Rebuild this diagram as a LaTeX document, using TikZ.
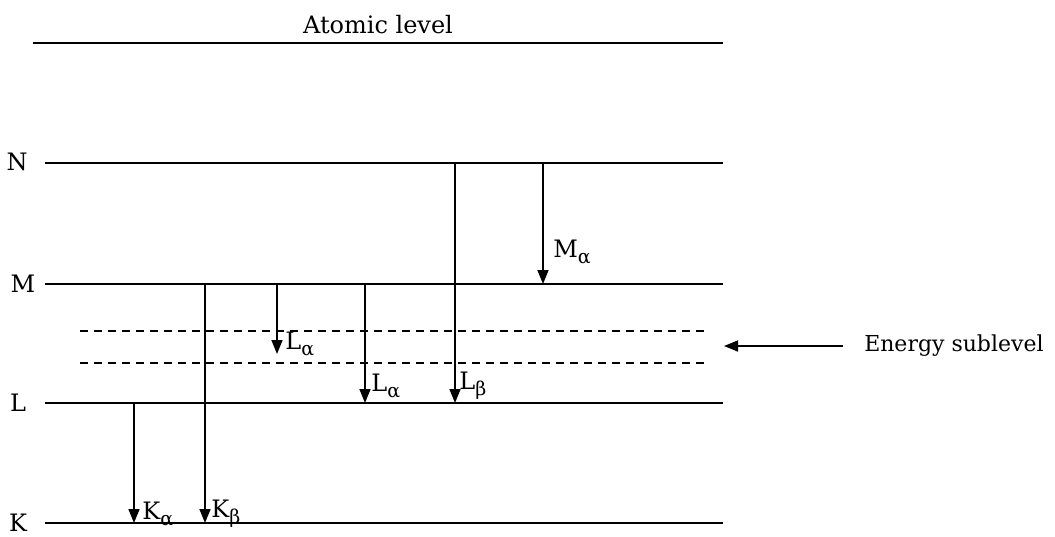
\documentclass[tikz,border=0pt]{standalone}
\usepackage{fontspec}
\setmainfont{DejaVu Serif}
\usetikzlibrary{arrows.meta}
\newcommand{\sub}[1]{\raisebox{-0.5ex}{\fontsize{9.5}{10}\selectfont #1}}
\tikzset{
  level/.style={line width=1pt},
  sublevel/.style={line width=0.8pt, dash pattern=on 4pt off 3pt},
  trans/.style={line width=0.8pt, -{Triangle[width=5.5pt,length=7pt]}},
  lbl/.style={font=\fontsize{12}{14}\selectfont, inner sep=0pt},
  sublbl/.style={font=\fontsize{12}{14}\selectfont, inner sep=0pt, anchor=west}
}
\begin{document}
\begin{tikzpicture}[x=0.5pt,y=-0.5pt]
\useasboundingbox (0,0) rectangle (1055,536);
% levels
\coordinate (T0) at (33,43);  \coordinate (T1) at (723,43);
\coordinate (N0) at (45,163); \coordinate (N1) at (723,163);
\coordinate (M0) at (45,284); \coordinate (M1) at (723,284);
\coordinate (L0) at (45,403); \coordinate (L1) at (723,403);
\coordinate (K0) at (45,523); \coordinate (K1) at (723,523);
\coordinate (D0) at (80,331); \coordinate (D1) at (706,331);
\coordinate (E0) at (80,363); \coordinate (E1) at (706,363);
\draw[level] (T0) -- (T1);
\draw[level] (N0) -- (N1);
\draw[level] (M0) -- (M1);
\draw[level] (L0) -- (L1);
\draw[level] (K0) -- (K1);
\draw[sublevel] (D0) -- (D1);
\draw[sublevel] (E0) -- (E1);
% labels
\node[lbl] (atomic) at (378,25) {Atomic level};
\node[lbl] (nN) at (17,162) {N};
\node[lbl] (nM) at (23,284) {M};
\node[lbl] (nL) at (18,403) {L};
\node[lbl] (nK) at (18,523) {K};
% transitions
\coordinate (ka0) at (134,403); \coordinate (ka1) at (134,523);
\coordinate (kb0) at (205,284); \coordinate (kb1) at (205,523);
\coordinate (la0) at (277,284); \coordinate (la1) at (277,354);
\coordinate (lb0) at (365,284); \coordinate (lb1) at (365,403);
\coordinate (lc0) at (455,163); \coordinate (lc1) at (455,403);
\coordinate (ma0) at (543,163); \coordinate (ma1) at (543,284);
\draw[trans] (ka0) -- (ka1);
\draw[trans] (kb0) -- (kb1);
\draw[trans] (la0) -- (la1);
\draw[trans] (lb0) -- (lb1);
\draw[trans] (lc0) -- (lc1);
\draw[trans] (ma0) -- (ma1);
\node[sublbl] (tKa) at (142,514) {K\sub{α}};
\node[sublbl] (tKb) at (211,514) {K\sub{β}};
\node[sublbl] (tLa) at (285,344) {L\sub{α}};
\node[sublbl] (tLb) at (371,386) {L\sub{α}};
\node[sublbl] (tLc) at (459,386) {L\sub{β}};
\node[sublbl] (tMa) at (553,252) {M\sub{α}};
% energy sublevel
\node[lbl, font=\fontsize{11}{13}\selectfont, anchor=east] (es) at (1044,346) {Energy sublevel};
\coordinate (esA) at (843,346);
\coordinate (esB) at (724,346);
\draw[trans] (esA) -- (esB);
\end{tikzpicture}
\end{document}
